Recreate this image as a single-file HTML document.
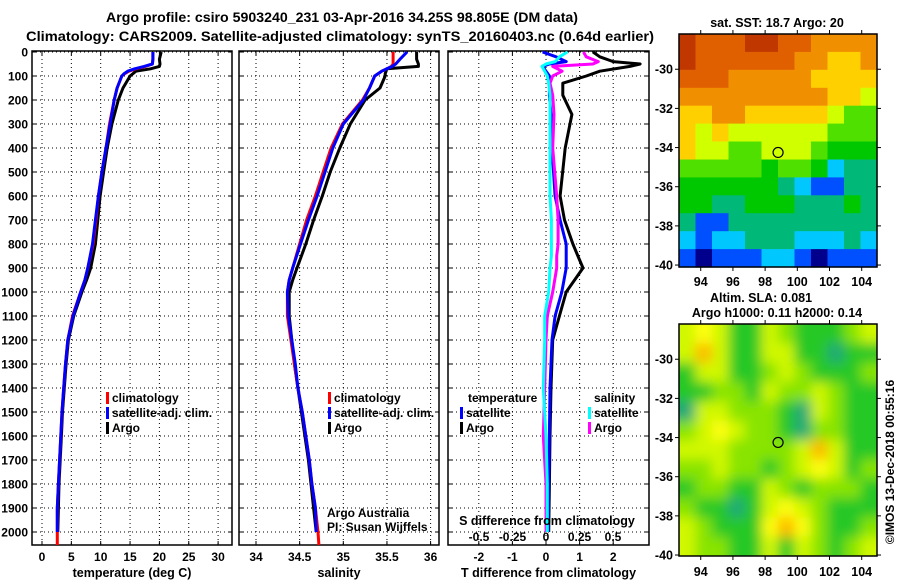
<!DOCTYPE html>
<html><head><meta charset="utf-8"><style>
body{margin:0;background:#fff}
svg text{font-family:"Liberation Sans",Arial,sans-serif;font-weight:bold;fill:#000}
</style></head><body>
<svg id="root" width="900" height="580" xmlns="http://www.w3.org/2000/svg">
<defs>
<filter id="blur" x="0" y="0" width="1" height="1"><feGaussianBlur stdDeviation="6"/></filter>
<clipPath id="clipSla"><rect x="679" y="324" width="198" height="232"/></clipPath>
</defs>
<text x="342" y="22" text-anchor="middle" font-size="14" textLength="472" lengthAdjust="spacingAndGlyphs">Argo profile: csiro 5903240_231 03-Apr-2016 34.25S 98.805E (DM data)</text>
<text x="340" y="41" text-anchor="middle" font-size="14" textLength="628" lengthAdjust="spacingAndGlyphs">Climatology: CARS2009. Satellite-adjusted climatology: synTS_20160403.nc (0.64d earlier)</text>
<g id="g"></g>
</svg>
<script>
// ---------- profile data ----------
const depth = [0,30,50,60,70,80,90,100,150,200,300,400,500,600,700,800,900,950,1000,1100,1200,1300,1400,1500,1600,1700,1800,1900,2000];
const tArgo = [20.3,20.0,20.1,20.0,18.5,16.0,15.5,15.0,13.8,13.0,11.9,11.1,10.5,9.9,9.5,9.1,8.3,7.6,6.8,5.4,4.5,4.1,3.8,3.5,3.3,3.1,2.9,2.8,2.7];
const tClim = [18.9,18.9,18.8,17.6,16.0,14.8,14.1,13.6,12.8,12.3,11.5,10.9,10.2,9.6,9.2,8.7,7.8,7.3,6.6,5.2,4.4,4.0,3.7,3.4,3.2,3.0,2.8,2.6,2.6];
const tSat  = [18.9,18.9,18.8,17.4,15.8,14.6,14.0,13.6,12.8,12.3,11.6,10.9,10.2,9.6,9.1,8.6,7.8,7.3,6.6,5.3,4.4,4.0,3.7,3.4,3.2,3.0,2.8,2.6,2.6];
const sArgo = [35.84,35.84,35.86,35.86,35.5,35.49,35.48,35.48,35.42,35.25,35.08,34.96,34.85,34.76,34.66,34.57,34.47,34.42,34.38,34.38,34.41,34.44,34.48,34.52,34.56,34.6,34.63,34.66,34.69];
const sClim = [35.57,35.57,35.57,35.55,35.5,35.44,35.4,35.36,35.3,35.22,34.99,34.86,34.77,34.68,34.58,34.5,34.42,34.38,34.36,34.36,34.4,34.44,34.48,34.53,34.57,34.61,34.64,34.68,34.71];
const sSat  = [35.73,35.65,35.6,35.56,35.5,35.44,35.4,35.36,35.3,35.23,35.0,34.88,34.79,34.7,34.6,34.51,34.42,34.38,34.36,34.37,34.41,34.45,34.48,34.53,34.57,34.61,34.64,34.68,34.69];
const dDepth = [0,20,40,50,60,80,100,130,180,260,400,600,700,800,850,900,1000,1100,1200,1400,1600,1800,2000];
const tdArgo = [1.4,1.6,2.0,2.8,2.5,1.6,1.2,0.5,0.5,0.77,0.57,0.42,0.55,0.8,0.95,1.1,0.6,0.4,0.2,0.15,0.12,0.1,0.08];
const tdSat  = [-0.1,0.3,0.6,0.1,-0.1,0.0,0.1,0.1,0.1,0.15,0.18,0.27,0.42,0.6,0.6,0.6,0.47,0.27,0.18,0.12,0.1,0.08,0.06];
const sdArgo = [0.28,0.3,0.39,0.35,0.05,0.12,0.05,0.03,0.05,0.06,0.05,0.08,0.09,0.09,0.08,0.08,0.05,0.01,0.0,-0.01,-0.02,0.0,0.0];
const sdSat  = [0.16,0.1,0.07,0.0,-0.03,-0.01,0.01,0.02,0.03,0.03,0.03,0.03,0.04,0.04,0.04,0.03,0.02,-0.01,-0.01,-0.02,0.0,0.01,0.01];
const depthTicks = [0,100,200,300,400,500,600,700,800,900,1000,1100,1200,1300,1400,1500,1600,1700,1800,1900,2000];
const tTicks = [0,5,10,15,20,25,30];
const sTicks = [34,34.5,35,35.5,36];
const tdTicks = [-2,-1,0,1,2];
const sdTickLabels = ["-0.5","-0.25","0","0.25","0.5"];
const sdTicks = [-0.5,-0.25,0,0.25,0.5];
// ---------- map data (colour class indices) ----------
const sstGrid = [
[10,9,9,9,10,10,9,9,8,8,8,8],
[10,9,9,9,9,9,9,8,8,7,7,8],
[9,9,9,8,8,8,8,8,7,7,7,7],
[8,8,8,8,8,8,8,8,8,7,7,6],
[7,7,8,8,7,7,7,7,7,6,5,5],
[7,6,7,6,6,6,6,6,6,5,5,5],
[7,6,6,5,5,6,6,6,5,4,4,4],
[5,5,5,5,5,4,5,5,4,2,3,3],
[4,4,4,4,4,4,3,2,1,1,3,3],
[4,4,3,3,4,4,4,3,3,3,4,3],
[3,1,1,3,3,3,3,3,3,3,3,3],
[2,1,2,2,3,3,3,2,2,2,3,2],
[1,0,1,1,1,2,2,1,0,1,1,1]];
const slaGrid = [
[3,4,3,1,1,3,2,1,1,1,2,3],
[3,5,3,1,1,3,3,1,1,0,1,1],
[1,3,3,1,1,2,3,2,1,1,1,2],
[1,1,2,2,1,3,2,2,3,2,1,1],
[0,3,3,2,2,2,1,0,3,2,1,1],
[2,3,4,3,2,2,1,0,2,2,1,1],
[3,3,3,2,2,2,2,3,5,3,1,1],
[2,2,3,2,2,1,2,3,4,3,1,2],
[1,2,2,1,1,3,2,1,2,2,2,1],
[2,1,1,0,1,3,4,3,2,1,1,1],
[3,2,1,1,1,4,5,4,2,1,1,2],
[3,2,2,1,1,3,1,3,2,1,2,3]];
const lonTicks = [94,96,98,100,102,104];
const latTicks = [-30,-32,-34,-36,-38,-40];
const argoLon = 98.805, argoLat = -34.25;

const sstColors = ["#00008c","#0050ff","#00c8ff","#00b878","#00c800","#50e000","#d0ff00","#ffd000","#f09000","#e06000","#c03800"];
const slaColors = ["#20a878","#28c828","#88e400","#d0f800","#ffff10","#ffb800"];

const NS="http://www.w3.org/2000/svg";
const G=document.getElementById('g');
function el(tag,attrs,parent){const e=document.createElementNS(NS,tag);for(const k in attrs)e.setAttribute(k,attrs[k]);(parent||G).appendChild(e);return e;}
function txt(s,x,y,size,anchor,parent){const t=el('text',{x:x,y:y,'font-size':size,'text-anchor':anchor||'middle'},parent);t.textContent=s;return t;}

const TOP=51,BOT=545;
const yD=d=>52+d*0.24;
const panels=[
 {name:'temperature-panel',x0:32,x1:232,f:v=>42+v*5.87,ticks:tTicks,title:'temperature (deg C)',grid:tTicks},
 {name:'salinity-panel',x0:239,x1:439,f:v=>256+(v-34)*87.3,ticks:sTicks,title:'salinity',grid:sTicks},
 {name:'difference-panel',x0:448,x1:649,f:v=>546+v*33.6,ticks:tdTicks,title:'T difference from climatology',grid:tdTicks}
];
const sdX=v=>546+v*134;

panels.forEach((p,i)=>{
  const g=el('g',{});
  
  
  depthTicks.forEach(d=>{const y=yD(d);el('line',{x1:p.x0,x2:p.x1,y1:y,y2:y,stroke:'#000','stroke-dasharray':'1,3','stroke-width':1},g);
    el('line',{x1:p.x0,x2:p.x0+4,y1:y,y2:y,stroke:'#000'},g);el('line',{x1:p.x1-4,x2:p.x1,y1:y,y2:y,stroke:'#000'},g);});
  p.grid.forEach(v=>{const x=p.f(v);el('line',{x1:x,x2:x,y1:TOP,y2:BOT,stroke:'#000','stroke-dasharray':'1,3'},g);
    el('line',{x1:x,x2:x,y1:BOT-4,y2:BOT,stroke:'#000'},g);el('line',{x1:x,x2:x,y1:TOP,y2:TOP+4,stroke:'#000'},g);});
  p.ticks.forEach(v=>{const t=txt(String(v),p.f(v),561,12,'middle',g);});
  const at=txt(p.title,(p.x0+p.x1)/2,577,12.5,'middle',g);
  
  
  el('rect',{x:p.x0,y:TOP,width:p.x1-p.x0,height:BOT-TOP,fill:'none',stroke:'#000','stroke-width':1.5},g);
});
depthTicks.forEach(d=>{const t=txt(String(d),28,yD(d)+4.5,12,'end');});

function line(xs,ds,fx,color,name,extra){
  let pts=xs.map((v,i)=>fx(v).toFixed(1)+','+yD(ds[i]).toFixed(1));
  if(extra) pts.push(fx(extra[0]).toFixed(1)+','+yD(extra[1]).toFixed(1));
  const pl=el('polyline',{points:pts.join(' '),fill:'none',stroke:color,'stroke-width':3,'stroke-linejoin':'round'});
  
  
}
const fT=panels[0].f,fS=panels[1].f,fD=panels[2].f;
line(tArgo,depth,fT,'#000','temp-argo-line');
line(tClim,depth,fT,'#f00','temp-climatology-line',[2.6,2054]);
line(tSat,depth,fT,'#00f','temp-satellite-line');
line(sArgo,depth,fS,'#000','sal-argo-line');
line(sClim,depth,fS,'#f00','sal-climatology-line',[34.72,2054]);
line(sSat,depth,fS,'#00f','sal-satellite-line');
line(tdArgo,dDepth,fD,'#000','tdiff-argo-line');
line(tdSat,dDepth,fD,'#00f','tdiff-satellite-line');
line(sdArgo,dDepth,sdX,'#ff00ff','sdiff-argo-line');
line(sdSat,dDepth,sdX,'#00ffff','sdiff-satellite-line');

function legend(x,y,color,label,name){
  const g=el('g',{});
  
  
  el('rect',{x:x,y:y-10,width:3,height:12,fill:color},g);
  txt(label,x+6,y,12,'start',g);
}
legend(106,402,'#f00','climatology','legend-climatology');
legend(106,417,'#00f','satellite-adj. clim.','legend-satellite-adj');
legend(106,432,'#000','Argo','legend-argo');
legend(328,402,'#f00','climatology','legend-climatology-sal');
legend(328,417,'#00f','satellite-adj. clim.','legend-satellite-adj-sal');
legend(328,432,'#000','Argo','legend-argo-sal');
txt('temperature',468,402,12,'start');
legend(460,417,'#00f','satellite','legend-tdiff-satellite');
legend(460,432,'#000','Argo','legend-tdiff-argo');
txt('salinity',594,402,12,'start');
legend(588,417,'#00ffff','satellite','legend-sdiff-satellite');
legend(588,432,'#ff00ff','Argo','legend-sdiff-argo');
const a1=txt('Argo Australia',327,517,12,'start');a1.setAttribute('font-weight','normal');
const a2=txt('PI: Susan Wijffels',327,531,12,'start');a2.setAttribute('font-weight','normal');
txt('S difference from climatology',547,525,12.5,'middle');
sdTicks.forEach((v,i)=>{const t=txt(sdTickLabels[i],sdX(v),541,12,'middle');});

// ---------- maps ----------
const lonL=92.65,lonR=104.95;
const mx=lon=>679+(lon-lonL)*(198/(lonR-lonL));
function drawMap(name,grid,colors,y0,y1,latTop,latBot,blur,lonLabY){
  const g=el('g',{});
  
  
  const my=lat=>y0+(latTop-lat)*((y1-y0)/(latTop-latBot));
  const inner=el('g',blur?{'clip-path':'url(#clipSla)'}:{},g);
  const inner2=el('g',blur?{filter:'url(#blur)'}:{},inner);
  const nr=grid.length,nc=grid[0].length;
  const dLat=(latTop-latBot)/nr,dLon=(lonR-lonL)/nc;
  if(blur) el('rect',{x:mx(lonL)-20,y:y0-20,width:240,height:y1-y0+40,fill:colors[2]},inner2);
  grid.forEach((row,r)=>row.forEach((c,k)=>{
    const xa=mx(lonL+k*dLon),xb=mx(lonL+(k+1)*dLon),ya=my(latTop-r*dLat),yb=my(latTop-(r+1)*dLat);
    const ex=blur?(k==0?-12:0):0, ex2=blur?(k==nc-1?12:0):0, ey=blur?(r==0?-12:0):0, ey2=blur?(r==nr-1?12:0):0;
    const cell=el('rect',{x:(xa+ex).toFixed(1),y:(ya+ey).toFixed(1),width:(xb-xa+0.6-ex+ex2).toFixed(1),height:(yb-ya+0.6-ey+ey2).toFixed(1),fill:colors[c]},inner2);
    
    
  }));
  const c=el('circle',{cx:mx(argoLon),cy:my(argoLat),r:5,fill:'none',stroke:'#000','stroke-width':1.2},g);
  
  
  el('rect',{x:679,y:y0,width:198,height:y1-y0,fill:'none',stroke:'#000','stroke-width':1.5},g);
  lonTicks.forEach(v=>{const x=mx(v);el('line',{x1:x,x2:x,y1:y0-4,y2:y0,stroke:'#000'},g);el('line',{x1:x,x2:x,y1:y1,y2:y1+4,stroke:'#000'},g);
    txt(String(v),x,lonLabY,12.5,'middle',g);});
  latTicks.forEach(v=>{const y=my(v);el('line',{x1:877,x2:881,y1:y,y2:y,stroke:'#000'},g);el('line',{x1:675,x2:679,y1:y,y2:y,stroke:'#000'},g);
    txt(String(v),673,y+4.5,12.5,'end',g);});
}
drawMap('sst-map',sstGrid,sstColors,34,267,-28.2,-40.1,false,286);
drawMap('sla-map',slaGrid,slaColors,324,556,-28.2,-40.05,true,576);
txt('sat. SST: 18.7 Argo: 20',777,27,12.5,'middle');
txt('Altim. SLA: 0.081',761,302,12.5,'middle');
txt('Argo h1000: 0.11 h2000: 0.14',777,317,12.5,'middle');
const im=txt('©IMOS 13-Dec-2018 00:55:16',0,0,12,'middle');
im.setAttribute('font-weight','normal');
im.setAttribute('transform','translate(894,462) rotate(-90)');


</script>
</body></html>
